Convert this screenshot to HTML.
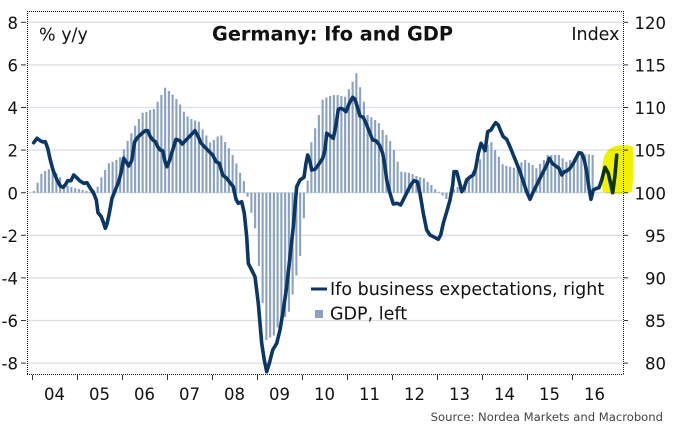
<!DOCTYPE html>
<html>
<head>
<meta charset="utf-8">
<style>
html,body{margin:0;padding:0;background:#fff;}
svg{display:block;}
text{font-family:"DejaVu Sans","Liberation Sans",sans-serif;fill:#111;}
</style>
</head>
<body>
<svg width="680" height="430" viewBox="0 0 680 430" xmlns="http://www.w3.org/2000/svg">
<rect x="0" y="0" width="680" height="430" fill="#fff"/>
<!-- gridlines -->
<g stroke="#dadfe5" stroke-width="1.3">
<line x1="27" y1="22.3" x2="623" y2="22.3"/>
<line x1="27" y1="64.9" x2="623" y2="64.9"/>
<line x1="27" y1="107.5" x2="623" y2="107.5"/>
<line x1="27" y1="150.1" x2="623" y2="150.1"/>
<line x1="27" y1="192.7" x2="623" y2="192.7"/>
<line x1="27" y1="235.3" x2="623" y2="235.3"/>
<line x1="27" y1="277.9" x2="623" y2="277.9"/>
<line x1="27" y1="320.5" x2="623" y2="320.5"/>
<line x1="27" y1="363.1" x2="623" y2="363.1"/>
</g>
<!-- GDP bars -->
<path fill="none" stroke="#8aa1bf" stroke-width="2.1" d="
M33.88 192.7V191 M37.63 192.7V182.7 M41.38 192.7V174 M45.13 192.7V171 M48.88 192.7V169.3 M52.63 192.7V171.7 M56.38 192.7V173.3 M60.13 192.7V177.3 M63.88 192.7V184 M67.63 192.7V186 M71.38 192.7V187.3 M75.13 192.7V188.3 M78.88 192.7V189 M82.63 192.7V190 M86.38 192.7V191 M90.13 192.7V191.7 M93.88 192.7V190 M97.63 192.7V186.7 M101.38 192.7V177.3 M105.13 192.7V170
M108.88 192.7V163.3 M112.63 192.7V161.7 M116.38 192.7V160 M120.13 192.7V157.3 M123.88 192.7V149.3 M127.63 192.7V141 M131.38 192.7V133.3 M135.13 192.7V125.7 M138.88 192.7V119 M142.63 192.7V112.7 M146.38 192.7V112 M150.13 192.7V110 M153.88 192.7V109 M157.63 192.7V101.7 M161.38 192.7V95 M165.13 192.7V87.7 M168.88 192.7V91 M172.63 192.7V94.5 M176.38 192.7V99 M180.13 192.7V104.5
M183.88 192.7V111.7 M187.63 192.7V116.5 M191.38 192.7V119 M195.13 192.7V120.5 M198.88 192.7V121.7 M202.63 192.7V129.5 M206.38 192.7V135.5 M210.13 192.7V142.5 M213.88 192.7V140 M217.63 192.7V136.5 M221.38 192.7V135.5 M225.13 192.7V142 M228.88 192.7V148.3 M232.63 192.7V155 M236.38 192.7V163.5 M240.13 192.7V172.7 M243.88 192.7V181 M247.63 192.7V196.7 M251.38 192.7V212.7 M255.13 192.7V228.3
M258.88 192.7V266 M262.63 192.7V303.3 M266.38 192.7V340 M270.13 192.7V337.5 M273.88 192.7V335.5 M277.63 192.7V327.5 M281.38 192.7V322 M285.13 192.7V317 M288.88 192.7V311.7 M292.63 192.7V294.5 M296.38 192.7V275.5 M300.13 192.7V256 M303.88 192.7V218.3 M307.63 192.7V180.7 M311.38 192.7V142.3 M315.13 192.7V128.3 M318.88 192.7V115 M322.63 192.7V99.7 M326.38 192.7V97.5 M330.13 192.7V96
M333.88 192.7V95 M337.63 192.7V95 M341.38 192.7V96 M345.13 192.7V96.7 M348.88 192.7V89.3 M352.63 192.7V81.7 M356.38 192.7V73.3 M360.13 192.7V87.3 M363.88 192.7V101.7 M367.63 192.7V115 M371.38 192.7V117.3 M375.13 192.7V120 M378.88 192.7V123.3 M382.63 192.7V130 M386.38 192.7V135 M390.13 192.7V141 M393.88 192.7V150 M397.63 192.7V161.7 M401.38 192.7V171.7 M405.13 192.7V172.3
M408.88 192.7V172.7 M412.63 192.7V174 M416.38 192.7V176 M420.13 192.7V177.3 M423.88 192.7V178.3 M427.63 192.7V181.7 M431.38 192.7V185 M435.13 192.7V189.3 M438.88 192.7V191.8 M442.63 192.7V195.5 M446.38 192.7V199 M450.13 192.7V196 M453.88 192.7V189 M457.63 192.7V187 M461.38 192.7V185 M465.13 192.7V181 M468.88 192.7V177 M472.63 192.7V171.7 M476.38 192.7V165 M480.13 192.7V159.3
M483.88 192.7V149.3 M487.63 192.7V145 M491.38 192.7V142.3 M495.13 192.7V150 M498.88 192.7V156.7 M502.63 192.7V164.3 M506.38 192.7V165.7 M510.13 192.7V166.7 M513.88 192.7V167.7 M517.63 192.7V169.3 M521.38 192.7V162.3 M525.13 192.7V160 M528.88 192.7V162.7 M532.63 192.7V165 M536.38 192.7V168.3 M540.13 192.7V164 M543.88 192.7V160 M547.63 192.7V155 M551.38 192.7V155 M555.13 192.7V155
M558.88 192.7V155 M562.63 192.7V158.3 M566.38 192.7V161.7 M570.13 192.7V160 M573.88 192.7V159.3 M577.63 192.7V154 M581.38 192.7V153.3 M585.13 192.7V154.3 M588.88 192.7V154.3 M592.63 192.7V155"/>
<!-- Ifo line -->
<polyline fill="none" stroke="#0b3766" stroke-width="3.6" stroke-linejoin="round" stroke-linecap="round" points="
33.7,142.7 37,138.3 40.3,140.7 43,142 45.3,141.7 47.7,148.3 50.3,160 53,170 57,180 60.3,186 63,187.3 65.3,185 67.7,180.7 71,180.7 73.7,175 76.3,177.3 79.7,180.7 83.7,183.3 87,182.7 90.3,188.3 93.7,193.3 96.3,200 98,212.7 101.3,216.7 103.7,223.3 105.3,228.3 107,224 109.3,213.3 112,198.3 115.3,190 118.7,181.7 121.3,171.7 123.7,158.3 126,161.7 128.7,166 131.7,160.7 134.7,141.7 137.7,137.3 142,133.3 145.3,130.7 147.7,130.7 150.3,136.7 153,140 155.3,141.7 157.7,146.7 160.3,150 162.7,150.7 165.3,162.7 167,166.7 169.7,160 172.7,150 176,139.3 179.7,140.7 182.3,144 186.7,139.3
190,136 195,130.7 198.3,136.7 200.7,142.7 205,147.3 209.3,151.7 212.7,155 216,161.7 219.3,163.3 222.7,175 226.7,178.3 230,182.7 233.3,186.7 236,199.3 238.3,203.3 241.7,201.7 244.3,213.3 246.7,236.7 248.3,263.3 251.7,270 255,276.7 258.3,303.3 261.7,343.3 264.3,360 266.7,371.7 269.3,363.3 272.7,350 276.7,343.3 280,330 283.3,310 286.7,286.7 290,256.7 293.3,226.7 296.7,186.7 300,180 304,177.3 306,163.3 307.7,155 310,161.7 311.7,170 315,169.3 318.3,165 322.7,158.3 325,150 326.7,133.3
329.3,135 333.3,138.3 336,125 338.3,109.3 340.7,108.3 343.3,109.3 346,111.7 349.3,103.3 352.7,97.3 355,99.3 357.3,106.7 360,116 363.3,117.3 366.7,125 370,133.3 372.7,140 376,140.7 379.3,145 382.7,153.3 385,166.7 386.7,180 390,193.3 393.3,204 397.3,203.3 400.7,205 404,198.3 407.3,191.7 410.7,185 414,180.7 417.3,181.7 420,193.3 423.3,213.3 426.7,230 430,235 433.3,236.7 438.3,239.3 440.7,235 443.3,223.3 446.7,211.7 450,200 452.7,185 454,171.7 456.7,171.7 459.3,181.7 461.7,191.7 464,188.3 466.7,180 470,177
473.3,175 475.7,168.3 478.3,153.3 481,143.3 483.3,147.3 485,150.7 487.7,131.7 491,130 493.3,126 495.7,122.7 498.3,125 501,131.7 503.3,136.7 506.7,139.3 510,146.7 513.3,155 516.7,163.3 520,171.7 523.3,181.7 526.7,191.7 530,199.3 533.3,191.7 536.7,185 540,178.3 543.3,171.7 546.7,165 549.3,158.3 552.3,163.3 555.7,166 559,168.3 561.7,175 564.3,171.7 566.7,171 570,168.3 573.3,163.3 576.7,156.7 579,152.7 581.7,153.3 584.3,160 586.7,171.7 589,188.3 591,199.3 593.3,190 596.7,188.3 599,187.7 601.7,180 605,167.3 608.3,173.3 612.7,192.7 615,175 616.7,155"/>
<!-- plot frame (dotted) -->
<g stroke="#111" stroke-width="1" stroke-dasharray="1 1" fill="none">
<line x1="27" y1="11.5" x2="623.5" y2="11.5"/>
<line x1="27" y1="374.5" x2="623.5" y2="374.5"/>
<line x1="27.5" y1="11" x2="27.5" y2="375"/>
<line x1="623.5" y1="11" x2="623.5" y2="375"/>
</g>
<!-- ticks -->
<g stroke="#333" stroke-width="1">
<line x1="21" y1="22.3" x2="26" y2="22.3"/><line x1="21" y1="64.9" x2="26" y2="64.9"/><line x1="21" y1="107.5" x2="26" y2="107.5"/><line x1="21" y1="150.1" x2="26" y2="150.1"/><line x1="21" y1="192.7" x2="26" y2="192.7"/><line x1="21" y1="235.3" x2="26" y2="235.3"/><line x1="21" y1="277.9" x2="26" y2="277.9"/><line x1="21" y1="320.5" x2="26" y2="320.5"/><line x1="21" y1="363.1" x2="26" y2="363.1"/>
<line x1="624" y1="22.3" x2="628" y2="22.3"/><line x1="624" y1="64.9" x2="628" y2="64.9"/><line x1="624" y1="107.5" x2="628" y2="107.5"/><line x1="624" y1="150.1" x2="628" y2="150.1"/><line x1="624" y1="192.7" x2="628" y2="192.7"/><line x1="624" y1="235.3" x2="628" y2="235.3"/><line x1="624" y1="277.9" x2="628" y2="277.9"/><line x1="624" y1="320.5" x2="628" y2="320.5"/><line x1="624" y1="363.1" x2="628" y2="363.1"/>
<line x1="32.5" y1="375" x2="32.5" y2="380"/><line x1="77.5" y1="375" x2="77.5" y2="380"/><line x1="122.5" y1="375" x2="122.5" y2="380"/><line x1="167.5" y1="375" x2="167.5" y2="380"/><line x1="212.5" y1="375" x2="212.5" y2="380"/><line x1="257.5" y1="375" x2="257.5" y2="380"/><line x1="302.5" y1="375" x2="302.5" y2="380"/><line x1="347.5" y1="375" x2="347.5" y2="380"/><line x1="392.5" y1="375" x2="392.5" y2="380"/><line x1="437.5" y1="375" x2="437.5" y2="380"/><line x1="482.5" y1="375" x2="482.5" y2="380"/><line x1="527.5" y1="375" x2="527.5" y2="380"/><line x1="572.5" y1="375" x2="572.5" y2="380"/>
</g>
<!-- highlighter -->
<path d="M603.3,159.3 C605,153 609,148 614,146.5 C620,144.5 628,144.5 632.7,146.7 C634,160 634,178 631.7,191.7 C625,194.5 612,194.5 602.7,191.7 C601.5,181 601.8,168 603.3,159.3 Z" fill="#f2f200" style="mix-blend-mode:multiply"/>
<!-- left axis labels -->
<g font-size="16.5" text-anchor="end">
<text x="18" y="28.9">8</text>
<text x="18" y="71.5">6</text>
<text x="18" y="114.1">4</text>
<text x="18" y="156.7">2</text>
<text x="18" y="199.3">0</text>
<text x="18" y="241.9">-2</text>
<text x="18" y="284.5">-4</text>
<text x="18" y="327.1">-6</text>
<text x="18" y="369.7">-8</text>
</g>
<!-- right axis labels -->
<g font-size="16.5" text-anchor="end">
<text x="666" y="28.9">120</text>
<text x="666" y="71.5">115</text>
<text x="666" y="114.1">110</text>
<text x="666" y="156.7">105</text>
<text x="666" y="199.3">100</text>
<text x="666" y="241.9">95</text>
<text x="666" y="284.5">90</text>
<text x="666" y="327.1">85</text>
<text x="666" y="369.7">80</text>
</g>
<!-- x labels -->
<g font-size="16.5" text-anchor="middle">
<text x="54.5" y="400">04</text>
<text x="99.5" y="400">05</text>
<text x="144.5" y="400">06</text>
<text x="189.5" y="400">07</text>
<text x="234.5" y="400">08</text>
<text x="279.5" y="400">09</text>
<text x="324.5" y="400">10</text>
<text x="369.5" y="400">11</text>
<text x="414.5" y="400">12</text>
<text x="459.5" y="400">13</text>
<text x="504.5" y="400">14</text>
<text x="549.5" y="400">15</text>
<text x="594.5" y="400">16</text>
</g>
<!-- titles -->
<text x="39" y="40.5" font-size="17.5">% y/y</text>
<text x="212" y="40.6" font-size="19.3" font-weight="bold">Germany: Ifo and GDP</text>
<text x="619.5" y="40" font-size="17.5" text-anchor="end">Index</text>
<!-- legend -->
<line x1="311" y1="289" x2="327" y2="289" stroke="#0b3766" stroke-width="3"/>
<text x="330" y="295" font-size="17.5">Ifo business expectations, right</text>
<rect x="315" y="310" width="8" height="8" fill="#8aa1bf"/>
<text x="330" y="319.5" font-size="17.5">GDP, left</text>
<!-- source -->
<text x="663" y="421" font-size="11.6" text-anchor="end" style="fill:#444">Source: Nordea Markets and Macrobond</text>
</svg>
</body>
</html>
